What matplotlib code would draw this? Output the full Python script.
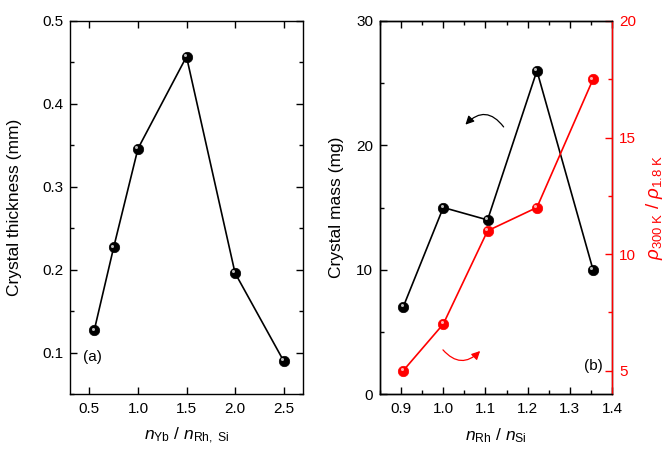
import matplotlib
matplotlib.use("Agg")
import matplotlib.pyplot as plt
import matplotlib.transforms as mtransforms
from matplotlib.patches import FancyArrowPatch
from matplotlib.ticker import MultipleLocator

plt.rcParams['font.family'] = ['Liberation Sans', 'DejaVu Sans']
plt.rcParams['mathtext.fontset'] = 'custom'
plt.rcParams['mathtext.rm'] = 'Liberation Sans'
plt.rcParams['mathtext.it'] = 'Liberation Sans:italic'
plt.rcParams['mathtext.bf'] = 'Liberation Sans:bold'

# Panel (a)
ratio_yb = [0.55, 0.75, 1.0, 1.5, 2.0, 2.5]
thickness = [0.127, 0.227, 0.346, 0.457, 0.196, 0.090]

# Panel (b)
ratio_rh = [0.905, 1.0, 1.105, 1.222, 1.355]
mass = [7.0, 15.0, 14.0, 26.0, 10.0]
rrr = [5.0, 7.0, 11.0, 12.0, 17.5]

W, H = 664, 466
fig = plt.figure(figsize=(W/100, H/100), dpi=100)

def axrect(l, t, r, b):
    return [l/W, 1 - b/H, (r-l)/W, (b-t)/H]

ax1 = fig.add_axes(axrect(70, 21, 303, 394))
ax2 = fig.add_axes(axrect(380, 21, 612, 394))
ax3 = ax2.twinx()

def sphere(ax, x, y, color, hl):
    ax.plot(x, y, '-', color=color, lw=1.2, zorder=2)
    ax.plot(x, y, 'o', ms=7.5, mfc=color, mec=color, mew=0.5, zorder=3, ls='none')
    off = mtransforms.ScaledTranslation(-1.2/72, 1.2/72, fig.dpi_scale_trans)
    ax.plot(x, y, 'o', ms=2.2, mfc=hl, mec='none', ls='none', zorder=4,
            transform=ax.transData + off)

lab_fs = 12.5
tick_fs = 11

# ---- panel (a)
sphere(ax1, ratio_yb, thickness, 'black', '#bdbdbd')
ax1.set_xlim(0.3, 2.7)
ax1.set_ylim(0.05, 0.5)
ax1.xaxis.set_major_locator(MultipleLocator(0.5))
ax1.yaxis.set_major_locator(MultipleLocator(0.1))
ax1.yaxis.set_minor_locator(MultipleLocator(0.05))
ax1.tick_params(which='both', direction='in', top=True, right=True, labelsize=tick_fs, width=1)
ax1.tick_params(which='major', length=5)
ax1.tick_params(which='minor', length=3)
ax1.tick_params(axis='x', pad=6)
ax1.tick_params(axis='y', pad=5)
ax1.set_ylabel('Crystal thickness (mm)', fontsize=lab_fs, labelpad=14)
ax1.set_xlabel(r'$n_{\mathrm{Yb}}$ / $n_{\mathrm{Rh,\ Si}}$', fontsize=lab_fs, labelpad=7)
ax1.text(0.055, 0.1, '(a)', transform=ax1.transAxes, fontsize=11, va='center')

# ---- panel (b)
sphere(ax2, ratio_rh, mass, 'black', '#bdbdbd')
sphere(ax3, ratio_rh, rrr, 'red', '#ffb0b0')
ax2.set_xlim(0.85, 1.4)
ax2.set_ylim(0, 30)
ax3.set_ylim(4, 20)
ax2.xaxis.set_major_locator(MultipleLocator(0.1))
ax2.xaxis.set_minor_locator(MultipleLocator(0.05))
ax2.yaxis.set_major_locator(MultipleLocator(10))
ax2.yaxis.set_minor_locator(MultipleLocator(5))
ax3.yaxis.set_major_locator(MultipleLocator(5))
ax3.yaxis.set_minor_locator(MultipleLocator(2.5))
ax2.tick_params(which='both', direction='in', top=True, right=False, labelsize=tick_fs, width=1)
ax2.tick_params(which='major', length=5)
ax2.tick_params(which='minor', length=3)
ax2.tick_params(axis='x', pad=6)
ax2.tick_params(axis='y', pad=5)
ax3.tick_params(which='both', direction='in', colors='red', labelsize=tick_fs, width=1)
ax3.tick_params(which='major', length=5)
ax3.tick_params(which='minor', length=3)
ax3.tick_params(axis='y', pad=5)
ax3.spines['right'].set_color('red')
ax2.set_ylabel('Crystal mass (mg)', fontsize=lab_fs, labelpad=9)
ax2.set_xlabel(r'$n_{\mathrm{Rh}}$ / $n_{\mathrm{Si}}$', fontsize=lab_fs, labelpad=7)
ax3.set_ylabel(r'$\rho_{\mathrm{300\ K}}$ / $\rho_{\mathrm{1.8\ K}}$', fontsize=lab_fs + 1,
               color='red', labelpad=6)
ax2.text(0.918, 0.075, '(b)', transform=ax2.transAxes, fontsize=11, va='center', ha='center')

# curved arrows
a1 = FancyArrowPatch((1.147, 21.3), (1.048, 21.5), connectionstyle='arc3,rad=0.63',
                     arrowstyle='-|>,head_length=5,head_width=2.5', color='black', lw=0.9,
                     transform=ax2.transData, zorder=5)
ax2.add_patch(a1)
a2 = FancyArrowPatch((0.995, 3.72), (1.092, 3.62), connectionstyle='arc3,rad=0.58',
                     arrowstyle='-|>,head_length=5,head_width=2.5', color='red', lw=0.9,
                     transform=ax2.transData, zorder=5)
ax2.add_patch(a2)

for ax in (ax1, ax2, ax3):
    for s in ax.spines.values():
        s.set_linewidth(1.0)
ax3.spines['right'].set_color('red')

fig.savefig('out.png', dpi=100)
